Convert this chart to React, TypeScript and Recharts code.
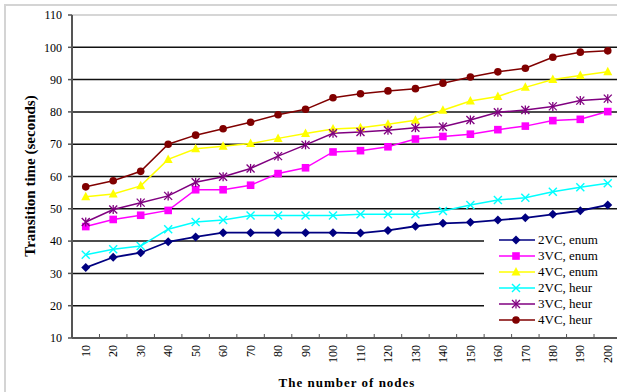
import React from 'react';
import { LineChart, Line, XAxis, YAxis, CartesianGrid, ReferenceLine, Legend } from 'recharts';

const nodes = ['10', '20', '30', '40', '50', '60', '70', '80', '90', '100', '110', '120', '130', '140', '150', '160', '170', '180', '190', '200'];
const enum2 = [31.8, 35.0, 36.4, 39.8, 41.3, 42.6, 42.6, 42.6, 42.6, 42.6, 42.5, 43.3, 44.6, 45.5, 45.8, 46.5, 47.2, 48.3, 49.4, 51.2];
const enum3 = [44.5, 46.7, 48.0, 49.5, 55.9, 55.9, 57.3, 60.9, 62.7, 67.6, 68.0, 69.2, 71.6, 72.4, 73.1, 74.5, 75.6, 77.3, 77.7, 80.1];
const enum4 = [53.7, 54.6, 57.1, 65.3, 68.6, 69.4, 70.2, 71.8, 73.3, 74.7, 75.1, 76.2, 77.4, 80.5, 83.4, 84.8, 87.6, 90.0, 91.3, 92.4];
const heur2 = [35.8, 37.5, 38.5, 43.7, 45.9, 46.5, 47.9, 47.9, 47.9, 47.9, 48.3, 48.3, 48.3, 49.3, 51.2, 52.7, 53.4, 55.3, 56.7, 57.9];
const heur3 = [45.9, 49.8, 51.9, 54.0, 58.2, 59.9, 62.5, 66.3, 69.8, 73.4, 73.8, 74.3, 75.1, 75.4, 77.5, 79.9, 80.6, 81.7, 83.5, 84.1];
const heur4 = [56.8, 58.7, 61.6, 70.0, 72.8, 74.8, 76.8, 79.1, 80.8, 84.4, 85.6, 86.5, 87.2, 88.9, 90.8, 92.4, 93.5, 96.9, 98.5, 98.9];
const yTicks = [10, 20, 30, 40, 50, 60, 70, 80, 90, 100, 110];
const gridValues = [20, 30, 40, 50, 60, 70, 80, 90, 100];

const data = nodes.map((n, i) => ({
  n,
  enum2: enum2[i],
  enum3: enum3[i],
  enum4: enum4[i],
  heur2: heur2[i],
  heur3: heur3[i],
  heur4: heur4[i],
}));

const series = [
  { key: 'enum2', name: '2VC, enum', color: '#000080', shape: 'diamond' },
  { key: 'enum3', name: '3VC, enum', color: '#FF00FF', shape: 'square' },
  { key: 'enum4', name: '4VC, enum', color: '#FFFF00', shape: 'triangle' },
  { key: 'heur2', name: '2VC, heur', color: '#00FFFF', shape: 'cross' },
  { key: 'heur3', name: '3VC, heur', color: '#800080', shape: 'star' },
  { key: 'heur4', name: '4VC, heur', color: '#800000', shape: 'circle' },
];

const serif = '"Liberation Serif", "DejaVu Serif", serif';

function Marker({ shape, color, cx, cy }: { shape: string; color: string; cx: number; cy: number }) {
  if (cx == null || cy == null) return null;
  switch (shape) {
    case 'diamond':
      return <polygon points={`${cx},${cy - 4.5} ${cx + 4.5},${cy} ${cx},${cy + 4.5} ${cx - 4.5},${cy}`} fill={color} />;
    case 'square':
      return <rect x={cx - 3.8} y={cy - 3.8} width={7.6} height={7.6} fill={color} />;
    case 'triangle':
      return <polygon points={`${cx},${cy - 5} ${cx + 4.5},${cy + 3.5} ${cx - 4.5},${cy + 3.5}`} fill={color} />;
    case 'cross':
      return (
        <g stroke={color} strokeWidth={1.4}>
          <line x1={cx - 4} y1={cy - 4} x2={cx + 4} y2={cy + 4} />
          <line x1={cx - 4} y1={cy + 4} x2={cx + 4} y2={cy - 4} />
        </g>
      );
    case 'star':
      return (
        <g stroke={color} strokeWidth={1.3}>
          <line x1={cx - 4} y1={cy - 4} x2={cx + 4} y2={cy + 4} />
          <line x1={cx - 4} y1={cy + 4} x2={cx + 4} y2={cy - 4} />
          <line x1={cx} y1={cy - 4.5} x2={cx} y2={cy + 4.5} />
        </g>
      );
    default:
      return <circle cx={cx} cy={cy} r={3.8} fill={color} />;
  }
}

const dotFor = (shape: string, color: string) => (props: any) => (
  <Marker key={`${shape}-${props.index}`} shape={shape} color={color} cx={props.cx} cy={props.cy} />
);

function XTick(props: any) {
  const { x, y, payload, index } = props;
  const half = payload.offset || 0;
  return (
    <g>
      <line x1={x - half} y1={y - 4} x2={x - half} y2={y} stroke="#555" strokeWidth={1} />
      {index === nodes.length - 1 && (
        <line x1={x + half} y1={y - 4} x2={x + half} y2={y} stroke="#555" strokeWidth={1} />
      )}
      <text
        x={x}
        y={y + 7}
        transform={`rotate(-90, ${x}, ${y + 7})`}
        textAnchor="end"
        dy="0.35em"
        fontFamily={serif}
        fontSize={12}
        fill="#000"
      >
        {payload.value}
      </text>
    </g>
  );
}

function LegendBox() {
  return (
    <div style={{ background: '#fff', padding: '4px 0 6px 15px', width: 133, boxSizing: 'border-box' }}>
      {series.map((s) => (
        <div key={s.key} style={{ display: 'flex', alignItems: 'center', height: 16 }}>
          <svg width={36} height={14} style={{ display: 'block' }}>
            <line x1={0} y1={7} x2={36} y2={7} stroke={s.color} strokeWidth={1.5} />
            <Marker shape={s.shape} color={s.color} cx={17} cy={7} />
          </svg>
          <span style={{ marginLeft: 3, fontFamily: serif, fontSize: 13, color: '#000', lineHeight: '16px' }}>
            {s.name}
          </span>
        </div>
      ))}
    </div>
  );
}

export default function App() {
  return (
    <div style={{ position: 'absolute', left: 0, top: 0, width: 617, height: 392, overflow: 'hidden', background: '#fff' }}>
      <div
        style={{
          position: 'absolute',
          left: 4,
          top: 4,
          width: 700,
          height: 500,
          border: '2px solid #d4d4d4',
          boxSizing: 'border-box',
        }}
      />
      <div style={{ position: 'absolute', left: 0, top: 0 }}>
        <LineChart width={630} height={392} data={data} margin={{ top: 15, right: 8.5, left: 0, bottom: 14 }}>
          <CartesianGrid horizontal vertical={false} horizontalValues={gridValues} stroke="#111" strokeWidth={1.5} />
          <ReferenceLine y={110} stroke="#c8c8c8" strokeWidth={1.5} />
          <XAxis
            dataKey="n"
            scale="band"
            height={40}
            interval={0}
            tickLine={false}
            tickSize={0}
            tickMargin={0}
            axisLine={{ stroke: '#555', strokeWidth: 2 }}
            tick={<XTick />}
          />
          <YAxis
            width={72}
            domain={[10, 110]}
            ticks={yTicks}
            interval={0}
            tickSize={4}
            tickMargin={6}
            axisLine={{ stroke: '#555', strokeWidth: 2 }}
            tickLine={{ stroke: '#555', strokeWidth: 1.5 }}
            tick={{ fontFamily: serif, fontSize: 12, fill: '#000' }}
          />
          {series.map((s) => (
            <Line
              key={s.key}
              dataKey={s.key}
              name={s.name}
              stroke={s.color}
              strokeWidth={s.key === 'enum2' ? 1.8 : 1.5}
              dot={dotFor(s.shape, s.color)}
              activeDot={false}
              isAnimationActive={false}
            />
          ))}
          <Legend
            layout="vertical"
            verticalAlign="middle"
            align="center"
            content={() => <LegendBox />}
            wrapperStyle={{ left: 484, top: 228, width: 133 }}
          />
        </LineChart>
      </div>
      <div
        style={{
          position: 'absolute',
          left: 30,
          top: 176,
          transform: 'translate(-50%, -50%) rotate(-90deg)',
          whiteSpace: 'nowrap',
          fontFamily: serif,
          fontWeight: 'bold',
          fontSize: 15,
          color: '#000',
        }}
      >
        Transition time (seconds)
      </div>
      <div
        style={{
          position: 'absolute',
          left: 347,
          top: 383,
          transform: 'translate(-50%, -50%)',
          whiteSpace: 'nowrap',
          fontFamily: serif,
          fontWeight: 'bold',
          fontSize: 13,
          letterSpacing: 1,
          color: '#000',
        }}
      >
        The number of nodes
      </div>
    </div>
  );
}
